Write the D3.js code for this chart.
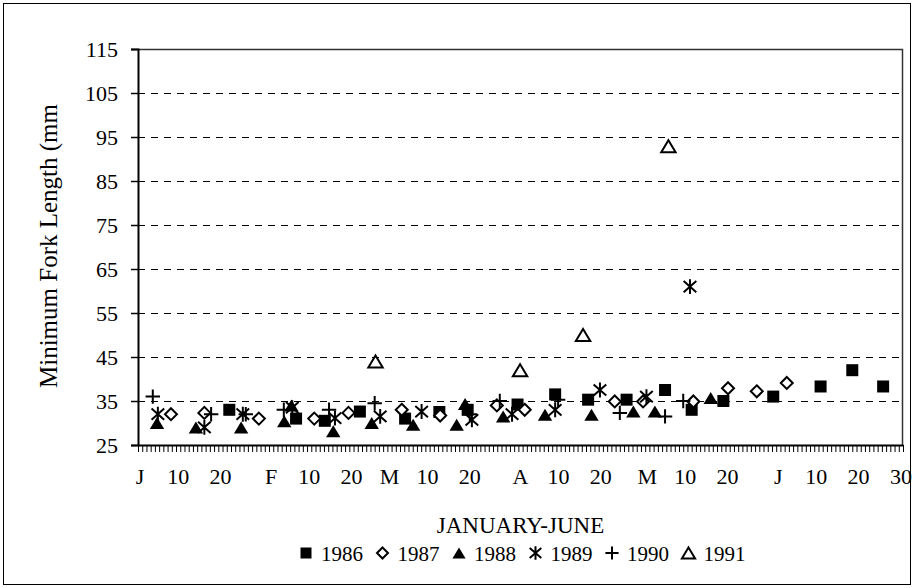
<!DOCTYPE html>
<html>
<head>
<meta charset="utf-8">
<script src="https://cdn.jsdelivr.net/npm/d3@7"></script>
<style>
  body { margin: 0; background: #fff; }
  text { font-family: "Liberation Serif", "Times New Roman", serif; fill: #000; }
</style>
</head>
<body>
<div id="myDataVis"></div>
<script>
// chart size
let width = 914;
let height = 588;

// tick labels under the x axis, at the day they mark (days since Jan 1, centre of the day)
let xTickLabels = ["J", "10", "20", "F", "10", "20", "M", "10", "20", "A", "10", "20", "M", "10", "20", "J", "10", "20", "30"];
let xTickDays = [0.5, 9.5, 19.5, 31.5, 40.5, 50.5, 59.5, 68.5, 78.5, 90.5, 99.5, 109.5, 120.5, 129.5, 139.5, 151.5, 160.5, 170.5, 180.5];
let yTicks = [25, 35, 45, 55, 65, 75, 85, 95, 105, 115];

// series: [day since Jan 1, minimum fork length mm]
let data1986 = [[21.6, 33], [37.4, 31], [44.2, 30.5], [52.5, 32.6], [63.2, 31], [71.3, 32.5], [78, 33], [89.8, 34.2],
                [98.7, 36.5], [106.5, 35.3], [115.6, 35.3], [124.7, 37.5], [131, 33], [138.5, 35], [150.3, 36],
                [161.5, 38.3], [169, 42], [176.3, 38.3]];
let data1987 = [[7.8, 32], [15.7, 32.3], [28.6, 31], [41.7, 31], [49.8, 32.3], [62.4, 33], [71.5, 31.7], [84.9, 34],
                [91.5, 33], [112.8, 34.9], [119.5, 34.9], [131.4, 34.9], [139.6, 37.9], [146.4, 37.2], [153.5, 39.1]];
let data1988 = [[4.5, 30], [13.7, 29], [24.4, 29], [34.6, 30.4], [36.3, 34], [46.2, 28.1], [55.3, 30], [65.1, 29.6],
                [75.4, 29.6], [77.4, 34.3], [86.4, 31.5], [96.3, 31.9], [107.3, 31.9], [117.2, 32.6], [122.3, 32.6],
                [135.5, 35.7]];
let data1989 = [[4.7, 32], [15.7, 29], [24.8, 32], [36.5, 33.5], [46.6, 31.1], [57.3, 31.5], [67.1, 32.6], [79, 30.7],
                [88.5, 32], [98.7, 33], [109.3, 37.5], [120.3, 36], [130.6, 61]];
let data1990 = [[3.5, 36], [17.3, 32], [25.5, 32], [34.5, 33], [45.2, 33], [56, 34.5], [78.5, 32], [85.6, 35],
                [99.4, 35.3], [114, 32.3], [124.7, 31.5], [129, 35]];
let data1991 = [[56.2, 44], [90.4, 42], [105.3, 50], [125.5, 92.9]];

let years = ["1986", "1987", "1988", "1989", "1990", "1991"];
let seriesData = [data1986, data1987, data1988, data1989, data1990, data1991];
let shapes = ["square", "diamond", "triangle", "asterisk", "plus", "openTriangle"];

let xScale = d3.scaleLinear();
let yScale = d3.scaleLinear();
let svg;

document.addEventListener('DOMContentLoaded', function () {
    drawChart();
});

// draws one marker shape into a group centred at 0,0
function drawMarker(g, shape, s) {
    if (shape == "square") {
        g.append("rect").attr("x", -s / 2).attr("y", -s / 2).attr("width", s).attr("height", s).attr("fill", "#000");
    } else if (shape == "diamond") {
        let r = s * 0.5;
        g.append("path").attr("d", `M0,${-r}L${r},0L0,${r}L${-r},0Z`)
            .attr("fill", "#fff").attr("stroke", "#000").attr("stroke-width", 2);
    } else if (shape == "triangle" || shape == "openTriangle") {
        let w = s * 0.6, h = s * 0.5;
        let p = g.append("path").attr("d", `M0,${-h}L${w},${h}L${-w},${h}Z`);
        if (shape == "triangle") p.attr("fill", "#000");
        else p.attr("fill", "#fff").attr("stroke", "#000").attr("stroke-width", 2);
    } else if (shape == "asterisk") {
        let r = s * 0.62;
        g.append("path").attr("d", `M0,${-r}V${r}M${-r * 0.85},${-r * 0.75}L${r * 0.85},${r * 0.75}M${-r * 0.85},${r * 0.75}L${r * 0.85},${-r * 0.75}`)
            .attr("stroke", "#000").attr("stroke-width", 2).attr("fill", "none");
    } else if (shape == "plus") {
        let r = s * 0.6;
        g.append("path").attr("d", `M0,${-r}V${r}M${-r},0H${r}`)
            .attr("stroke", "#000").attr("stroke-width", 2).attr("fill", "none");
    }
}

function drawChart() {
    let root = d3.select("#myDataVis").append("svg").attr("width", width).attr("height", height);

    var margin = {top: 49, right: 11, left: 138, bottom: 143};
    const innerWidth = width - margin.left - margin.right;
    const innerHeight = height - margin.top - margin.bottom;

    xScale.domain([0, 181]).range([0, innerWidth]);
    yScale.domain([25, 115]).range([innerHeight, 0]);

    // outer frame
    root.append("rect").attr("x", 3.5).attr("y", 3.5).attr("width", width - 7).attr("height", height - 7)
        .attr("fill", "none").attr("stroke", "#000").attr("stroke-width", 1);

    svg = root.append("g").attr("transform", `translate(${margin.left}, ${margin.top})`);

    // dashed grid lines
    svg.selectAll(".grid")
        .data(yTicks.filter(d => d > 25 && d < 115))
        .enter().append("line")
        .attr("x1", 0).attr("x2", innerWidth)
        .attr("y1", d => Math.round(yScale(d)) + 0.5).attr("y2", d => Math.round(yScale(d)) + 0.5)
        .attr("stroke", "#000").attr("stroke-width", 1).attr("stroke-dasharray", "7,6");

    // top and right border of the plot
    svg.append("path")
        .attr("d", `M0,0.5H${innerWidth - 0.5}V${innerHeight}`)
        .attr("fill", "none").attr("stroke", "#333").attr("stroke-width", 1.5);

    // y axis
    let yAxis = svg.append("g")
        .call(d3.axisLeft(yScale).tickValues(yTicks).tickSize(7).tickFormat(""));
    yAxis.select(".domain").attr("stroke-width", 2);
    yAxis.selectAll(".tick line").attr("stroke-width", 1.5);
    svg.selectAll(".ylab")
        .data(yTicks)
        .enter().append("text")
        .attr("x", -20)
        .attr("y", d => yScale(d) + 7.5)
        .attr("text-anchor", "end")
        .style("font-size", "22px")
        .text(d => d);

    // x axis with a tick for every day
    let xAxis = svg.append("g").attr("transform", `translate(0, ${innerHeight})`)
        .call(d3.axisBottom(xScale).tickValues(d3.range(0, 182)).tickSize(7).tickSizeOuter(0).tickFormat(""));
    xAxis.select(".domain").attr("stroke-width", 2);
    xAxis.selectAll(".tick line").attr("stroke-width", 1);

    svg.selectAll(".xlab")
        .data(xTickLabels)
        .enter().append("text")
        .attr("x", (d, i) => xScale(xTickDays[i]))
        .attr("y", innerHeight + 39)
        .attr("text-anchor", "middle")
        .style("font-size", "22px")
        .text(d => d);

    // axis titles
    svg.append("text")
        .attr("x", innerWidth / 2)
        .attr("y", innerHeight + 88)
        .attr("text-anchor", "middle")
        .style("font-size", "23px")
        .text("JANUARY-JUNE");

    root.append("text")
        .attr("transform", "rotate(-90)")
        .attr("x", -246)
        .attr("y", 57)
        .attr("text-anchor", "middle")
        .style("font-size", "25px")
        .text("Minimum Fork Length (mm");

    // points
    seriesData.forEach(function (series, k) {
        svg.selectAll(".pt" + k)
            .data(series)
            .enter().append("g")
            .attr("transform", d => `translate(${xScale(d[0])}, ${yScale(d[1])})`)
            .each(function () { drawMarker(d3.select(this), shapes[k], 12); });
    });

    // legend
    let legend = root.append("g").attr("transform", "translate(306, 553)");
    years.forEach(function (yr, i) {
        let item = legend.append("g").attr("transform", `translate(${i * 76.5}, 0)`);
        drawMarker(item, shapes[i], 11);
        item.append("text")
            .attr("x", 15)
            .attr("y", 7.5)
            .style("font-size", "21px")
            .text(yr);
    });
}
</script>
</body>
</html>
